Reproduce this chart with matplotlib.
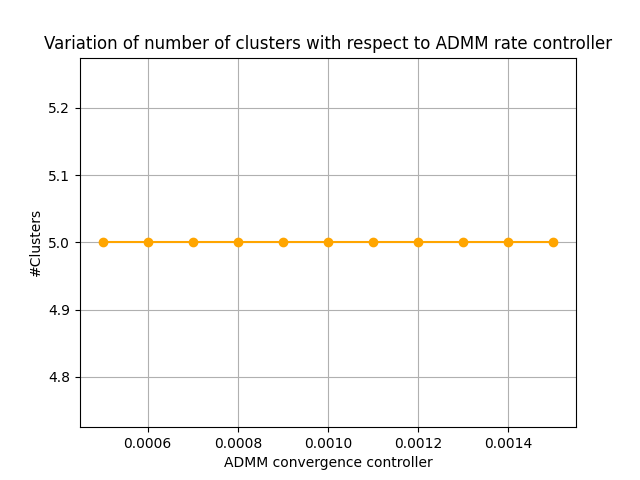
import matplotlib
matplotlib.use("Agg")
import matplotlib.pyplot as plt

# ADMM rate controller values and resulting number of clusters
rate_controller = [0.0005, 0.0006, 0.0007, 0.0008, 0.0009, 0.0010,
                   0.0011, 0.0012, 0.0013, 0.0014, 0.0015]
num_clusters = [5, 5, 5, 5, 5, 5, 5, 5, 5, 5, 5]

plt.figure(figsize=(6.4, 4.8), dpi=100)
plt.plot(rate_controller, num_clusters, marker='o', color='orange')

plt.xlabel("ADMM convergence controller")
plt.ylabel("#Clusters")
plt.title("Variation of number of clusters with respect to ADMM rate controller")

plt.grid()
plt.savefig("out.png")
